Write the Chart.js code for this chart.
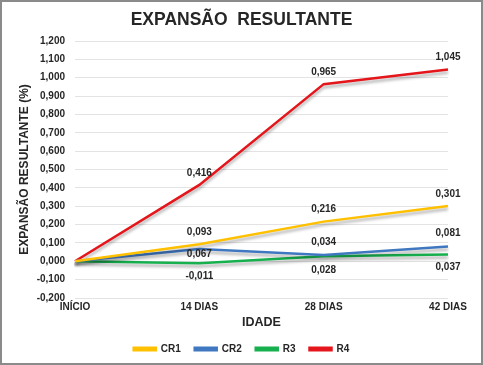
<!DOCTYPE html>
<html>
<head>
<meta charset="utf-8">
<script src="https://cdn.jsdelivr.net/npm/chart.js@4"></script>
<style>
  html, body { margin: 0; padding: 0; background: #fff; }
  #wrap { width: 483px; height: 365px; box-sizing: border-box; border: 2px solid #8a8a8a; background: #fff; }
</style>
</head>
<body>
<div id="wrap"><canvas id="chart" width="479" height="361"></canvas></div>
<script>
// categorias e séries
const idades = ["INÍCIO", "14 DIAS", "28 DIAS", "42 DIAS"];
const cr1 = [0, 0.093, 0.216, 0.301];
const cr2 = [0, 0.067, 0.034, 0.081];
const r3  = [0, -0.011, 0.028, 0.037];
const r4  = [0, 0.416, 0.965, 1.045];

// deslocamento vertical dos rótulos (px), null = sem rótulo
const offCR1 = [null, -12, -12, -12];
const offCR2 = [null, 5, -13, -13];
const offR3  = [null, 13, 14, 13];
const offR4  = [null, -12, -12, -12];

const FONT = "'Liberation Sans', Arial, sans-serif";

function fmt(v) {
  if (Math.abs(v) < 1e-9) v = 0;
  return v.toFixed(3).replace('.', ',');
}

function serie(label, data, cor, off) {
  return {
    label: label,
    data: data,
    borderColor: cor,
    backgroundColor: cor,
    borderWidth: 2.5,
    pointRadius: 0,
    tension: 0,
    labelOff: off
  };
}

// sombra nas linhas
const sombra = {
  id: 'sombra',
  beforeDatasetDraw(chart) {
    const ctx = chart.ctx;
    ctx.save();
    ctx.shadowColor = 'rgba(0,0,0,0.3)';
    ctx.shadowBlur = 3;
    ctx.shadowOffsetY = 3;
  },
  afterDatasetDraw(chart) {
    chart.ctx.restore();
  }
};

// rótulos de dados
const rotulos = {
  id: 'rotulos',
  afterDatasetsDraw(chart) {
    const ctx = chart.ctx;
    ctx.save();
    ctx.font = "bold 10px " + FONT;
    ctx.fillStyle = '#262626';
    ctx.textAlign = 'center';
    ctx.textBaseline = 'middle';
    chart.data.datasets.forEach((ds, i) => {
      const meta = chart.getDatasetMeta(i);
      meta.data.forEach((pt, j) => {
        const off = ds.labelOff[j];
        if (off === null) return;
        ctx.fillText(fmt(ds.data[j]), pt.x, pt.y + off);
      });
    });
    ctx.restore();
  }
};

new Chart(document.getElementById('chart'), {
  type: 'line',
  data: {
    labels: idades,
    datasets: [
      serie('CR1', cr1, '#FFC000', offCR1),
      serie('CR2', cr2, '#3F78C0', offCR2),
      serie('R3', r3, '#16B04E', offR3),
      serie('R4', r4, '#E4161B', offR4)
    ]
  },
  options: {
    responsive: false,
    animation: false,
    layout: { padding: { left: 15, right: 15, top: 2, bottom: -1 } },
    scales: {
      x: {
        offset: false,
        afterFit(s) { s.paddingRight = 33; },
        grid: { display: false, drawTicks: false },
        border: { display: false },
        ticks: { color: '#262626', font: { family: FONT, size: 10, weight: 'bold' }, padding: 3, maxRotation: 0 },
        title: { display: true, text: 'IDADE', color: '#262626', font: { family: FONT, size: 12.5, weight: 'bold' }, padding: { top: -1, bottom: 0 } }
      },
      y: {
        min: -0.2,
        max: 1.2,
        afterFit(s) { s.width = 58; },
        grid: { color: '#e3e3e3', drawTicks: false },
        border: { display: false },
        ticks: {
          stepSize: 0.1,
          color: '#262626',
          padding: 10,
          font: { family: FONT, size: 10, weight: 'bold' },
          callback: v => fmt(v)
        },
        title: { display: true, text: 'EXPANSÃO RESULTANTE (%)', color: '#262626', font: { family: FONT, size: 12, weight: 'bold' }, padding: { top: 0, bottom: 0 } }
      }
    },
    plugins: {
      title: {
        display: true,
        text: 'EXPANSÃO  RESULTANTE',
        color: '#262626',
        font: { family: FONT, size: 17.5, weight: 'bold' },
        padding: { top: 5.5, bottom: 10.5 }
      },
      legend: {
        position: 'bottom',
        labels: {
          boxWidth: 22,
          boxHeight: 2.5,
          padding: 14,
          color: '#262626',
          font: { family: FONT, size: 10, weight: 'bold' }
        }
      },
      tooltip: { enabled: false }
    }
  },
  plugins: [sombra, rotulos]
});
</script>
</body>
</html>
